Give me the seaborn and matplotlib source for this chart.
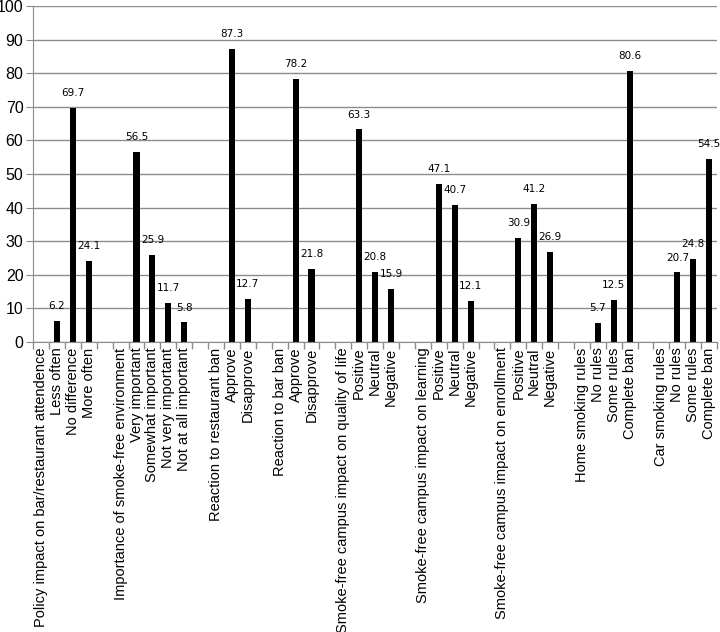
import seaborn as sns
import pandas as pd
import numpy as np
import matplotlib.pyplot as plt
from matplotlib.ticker import FixedLocator

# survey groups, their answer options and the percent for each option
headers = ['Policy impact on bar/restaurant attendence',
           'Importance of smoke-free environment',
           'Reaction to restaurant ban',
           'Reaction to bar ban',
           'Smoke-free campus impact on quality of life',
           'Smoke-free campus impact on learning',
           'Smoke-free campus impact on enrollment',
           'Home smoking rules',
           'Car smoking rules']
options = [['Less often', 'No difference', 'More often'],
           ['Very important', 'Somewhat important', 'Not very important', 'Not at all important'],
           ['Approve', 'Disapprove'],
           ['Approve', 'Disapprove'],
           ['Positive', 'Neutral', 'Negative'],
           ['Positive', 'Neutral', 'Negative'],
           ['Positive', 'Neutral', 'Negative'],
           ['No rules', 'Some rules', 'Complete ban'],
           ['No rules', 'Some rules', 'Complete ban']]
percents = [[6.2, 69.7, 24.1],
            [56.5, 25.9, 11.7, 5.8],
            [87.3, 12.7],
            [78.2, 21.8],
            [63.3, 20.8, 15.9],
            [47.1, 40.7, 12.1],
            [30.9, 41.2, 26.9],
            [5.7, 12.5, 80.6],
            [20.7, 24.8, 54.5]]

# build one row per slot on the x axis (header, options, blank spacer)
rows = []
for g, (h, opts, vals) in enumerate(zip(headers, options, percents)):
    if g > 0:
        rows.append(('', np.nan))
    rows.append((h, np.nan))
    for o, v in zip(opts, vals):
        rows.append((o, v))
df = pd.DataFrame(rows, columns=['label', 'pct'])
df['slot'] = ['s%02d' % i for i in range(len(df))]

plt.rcParams['font.family'] = ['Liberation Sans', 'DejaVu Sans']

fig = plt.figure(figsize=(7.2, 6.32), dpi=100)
ax = fig.add_axes([0.046, 0.459, 0.95, 0.5315])

sns.barplot(data=df, x='slot', y='pct', order=list(df['slot']),
            color='black', width=0.38, saturation=1, ax=ax)

n = len(df)
ax.set_xlim(-0.5, n - 0.5)
ax.set_ylim(0, 100)
ax.set_yticks(range(0, 101, 10))
ax.yaxis.grid(True, color='#8c8c8c', lw=1)
ax.set_axisbelow(True)
ax.set_xlabel('')
ax.set_ylabel('')

ax.set_xticks(range(n))
ax.set_xticklabels(df['label'], rotation=90, fontsize=10.5, va='top', ha='center')
ax.tick_params(axis='x', length=0, pad=4)
ax.xaxis.set_minor_locator(FixedLocator(np.arange(-0.5, n, 1)))
ax.tick_params(axis='x', which='minor', length=5, color='#8c8c8c', width=1)
ax.tick_params(axis='y', labelsize=11.5, length=5, color='#8c8c8c', pad=2)

for s in ['top', 'right']:
    ax.spines[s].set_visible(False)
for s in ['left', 'bottom']:
    ax.spines[s].set_color('#8c8c8c')

for i, v in enumerate(df['pct']):
    if not np.isnan(v):
        ax.text(i, v + 4.4, '%.1f' % v, ha='center', va='center',
                fontsize=7.5, family='DejaVu Sans')

fig.savefig('out.png', dpi=100, facecolor='white')
